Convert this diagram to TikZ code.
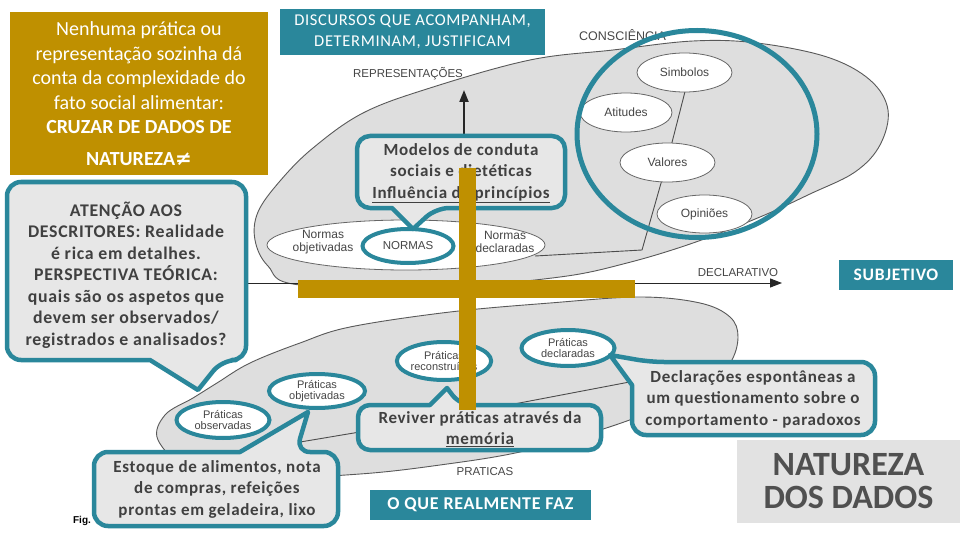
\documentclass[tikz,border=0pt]{standalone}
\usepackage{fontspec}
\setmainfont{Carlito}
\newfontfamily\callf[LetterSpace=4]{Carlito}
\newfontfamily\labf{Liberation Sans}
\newfontfamily\symf{DejaVu Sans}
\usetikzlibrary{arrows.meta,calc,shapes.geometric}
\definecolor{tealc}{RGB}{42,135,155}
\definecolor{goldc}{RGB}{191,144,0}
\definecolor{blobc}{RGB}{222,222,222}
\definecolor{callc}{RGB}{231,231,231}
\definecolor{txtc}{RGB}{64,64,64}
\definecolor{labc}{RGB}{70,70,70}
\definecolor{natc}{RGB}{226,226,226}
\definecolor{nattxt}{RGB}{80,80,80}
\tikzset{
  blob/.style={fill=blobc, draw=black!65, line width=0.9pt},
  callshape/.style={draw=tealc, fill=callc, line width=4.5pt, line join=round},
  calltext/.style={inner sep=0pt, align=center, text=txtc, font=\callf\bfseries\fontsize{17}{21.5}\selectfont},
  tealbox/.style={fill=tealc, text=white, inner sep=0pt, align=center, font=\callf\fontsize{16.5}{21}\selectfont},
  plainell/.style={ellipse, draw=black!60, fill=white, line width=0.8pt, inner sep=0pt, text=labc, font=\labf\fontsize{12}{12}\selectfont},
  tealell/.style={ellipse, draw=tealc, fill=white, line width=4pt, inner sep=0pt, align=center, text=labc, font=\labf\fontsize{11}{11.5}\selectfont},
  lab/.style={inner sep=0pt, align=center, text=labc, font=\labf\fontsize{11.5}{12}\selectfont},
  goldbar/.style={fill=goldc},
  darkarrow/.style={draw=black!85, -{Triangle[length=12pt,width=9pt]}}
}
\begin{document}
\begin{tikzpicture}[x=1pt,y=-1pt]
\useasboundingbox (0,0) rectangle (960,540);
\fill[white] (0,0) rectangle (960,540);

% grey blobs
\draw[blob] plot[smooth cycle, tension=0.6] coordinates {
 (300,285) (268,266) (255,240) (258,212) (280,181) (313,148) (363,113) (430,88)
 (530,60) (613,50) (693,41) (757,43) (827,57) (870,80) (888,110) (880,145)
 (855,172) (810,194) (760,217) (693,243) (627,263) (560,277) (450,286)};
\draw[blob] plot[smooth cycle, tension=0.6] coordinates {
 (158,440) (165,415) (193,398) (217,383) (250,363) (300,343) (350,327) (450,312)
 (550,303) (640,297) (700,303) (730,317) (738,337) (730,363) (705,385) (660,408)
 (600,430) (520,452) (440,465) (360,474) (260,478) (190,468)};

% inner lines
\coordinate (pl1) at (690,72);
\coordinate (pl2) at (667,162);
\coordinate (pl3) at (642,250);
\coordinate (pl4) at (535,256);
\draw[black!70, line width=0.9pt] (pl1) -- (pl2) -- (pl3) -- (pl4);
\coordinate (ll1) at (300,442);
\coordinate (ll2) at (640,380);
\draw[black!70, line width=0.9pt] (ll1) .. controls (420,422) .. (ll2);

% normas ellipse
\node[ellipse, draw=black!60, fill=white, line width=0.8pt, minimum width=278, minimum height=50, inner sep=0pt] (normasell) at (406,245) {};
\node[lab, font=\labf\fontsize{12}{12.5}\selectfont] (normobj) at (323,242) {Normas\\objetivadas};
\node[lab, font=\labf\fontsize{12}{12.5}\selectfont] (normdec) at (505,242) {Normas\\declaradas};

% conscience ellipses
\node[plainell, minimum width=95, minimum height=39] (simb) at (684.5,72.5) {Simbolos};
\node[plainell, minimum width=92, minimum height=39] (atit) at (626,112.5) {Atitudes};
\node[plainell, minimum width=95, minimum height=39] (valo) at (667.5,162.5) {Valores};
\node[plainell, minimum width=95, minimum height=38] (opin) at (704.5,214) {Opiniões};

% axis labels
\node[lab, anchor=west, font=\labf\fontsize{12.5}{13}\selectfont] (consc) at (579,35) {CONSCIÊNCIA};
\node[lab] (repr) at (408,74) {REPRESENTAÇÕES};
\node[lab] (declt) at (738,273) {DECLARATIVO};
\node[lab] (prat) at (485,472) {PRATICAS};

% arrows
\coordinate (vbot) at (464,300);
\coordinate (vtop) at (464,90);
\draw[darkarrow, line width=2pt] (vbot) -- (vtop);
\coordinate (hleft) at (200,283);
\coordinate (hright) at (782,283);
\draw[darkarrow, line width=1pt] (hleft) -- (hright);

% teal ellipses
\node[tealell, minimum width=91, minimum height=34, font=\labf\fontsize{11.5}{12}\selectfont] (normas) at (408,246) {NORMAS};
\node[tealell, minimum width=93, minimum height=36] (pobs) at (223,420) {Práticas\\observadas};
\node[tealell, minimum width=96, minimum height=34] (pobj) at (317,391) {Práticas\\objetivadas};
\node[tealell, minimum width=94, minimum height=38] (prec) at (444,361) {Práticas\\reconstruídas};
\node[tealell, minimum width=93, minimum height=36] (pdec) at (568,348) {Práticas\\declaradas};

% big circle
\node[ellipse, draw=tealc, line width=5pt, minimum width=240, minimum height=207, inner sep=0pt] (bigcirc) at (697,134) {};

% Fig.
\node[inner sep=0pt, font=\labf\bfseries\fontsize{10}{10}\selectfont] (fig) at (82,521) {Fig.};

% callouts
\coordinate (tipA) at (413,229);
\draw[callshape] (392,208) [rounded corners=13pt] -- (357,208) -- (357,136) -- (565,136) -- (565,208) -- (436,208) [sharp corners] -- (tipA) -- cycle;
\node[calltext] (modelos) at (461,173) {Modelos de conduta\\sociais e dietéticas\\\underline{Influência de princípios}};

\coordinate (tipB) at (198,390);
\draw[callshape] (150,360) [rounded corners=14pt] -- (7,360) -- (7,182) -- (246,182) -- (246,360) -- (222,360) [sharp corners] -- (tipB) -- cycle;
\node[calltext, font=\callf\bfseries\fontsize{17.8}{21.5}\selectfont] (atencao) at (126,275) {ATENÇÃO AOS\\DESCRITORES: Realidade\\é rica em detalhes.\\PERSPECTIVA TEÓRICA:\\quais são os aspetos que\\devem ser observados/\\registrados e analisados?};

\coordinate (tipC) at (308,412);
\draw[callshape] (240,452) [rounded corners=14pt] -- (94,452) -- (94,526) -- (338,526) -- (338,452) -- (296,452) [sharp corners] -- (tipC) -- cycle;
\node[calltext] (estoque) at (217,489) {Estoque de alimentos, nota\\de compras, refeições\\prontas em geladeira, lixo};

\coordinate (tipD) at (447,388);
\draw[callshape] (430,405) [rounded corners=12pt] -- (358,405) -- (358,450) -- (601,450) -- (601,405) -- (460,405) [sharp corners] -- (tipD) -- cycle;
\node[calltext] (reviver) at (480,429) {Reviver práticas através da\\\underline{memória}};

\coordinate (tipE) at (610,355);
\draw[callshape] (632,385) [rounded corners=14pt] -- (632,435) -- (875,435) -- (875,362) -- (650,362) [sharp corners] -- (tipE) -- cycle;
\node[calltext] (declar) at (753,399) {Declarações espontâneas a\\um questionamento sobre o\\comportamento - paradoxos};

% gold cross
\fill[goldbar] (298,280) rectangle (635,298);
\fill[goldbar] (459,168) rectangle (476,410);

% filled boxes
\node[fill=goldc, text=white, minimum width=258, minimum height=163, inner sep=0pt, align=center, font=\fontsize{20}{24.5}\selectfont] (gold) at (139,93.5) {Nenhuma prática ou\\representação sozinha dá\\conta da complexidade do\\fato social alimentar:\\\textbf{CRUZAR DE DADOS DE}\\[7pt]\textbf{NATUREZA}{\symf\bfseries ≠}};
\node[tealbox, minimum width=265, minimum height=46] (discursos) at (412.5,32) {DISCURSOS QUE ACOMPANHAM,\\DETERMINAM, JUSTIFICAM};
\node[tealbox, minimum width=114, minimum height=30, font=\callf\bfseries\fontsize{17.5}{20}\selectfont] (subj) at (896,275) {SUBJETIVO};
\node[tealbox, minimum width=221, minimum height=30, font=\callf\bfseries\fontsize{18}{20}\selectfont] (oque) at (480.5,505) {O QUE REALMENTE FAZ};
\node[fill=natc, text=nattxt, minimum width=223, minimum height=83, inner sep=0pt, align=center, font=\bfseries\fontsize{34}{33}\selectfont] (natur) at (848.5,481.5) {NATUREZA\\DOS DADOS};
\end{tikzpicture}
\end{document}
